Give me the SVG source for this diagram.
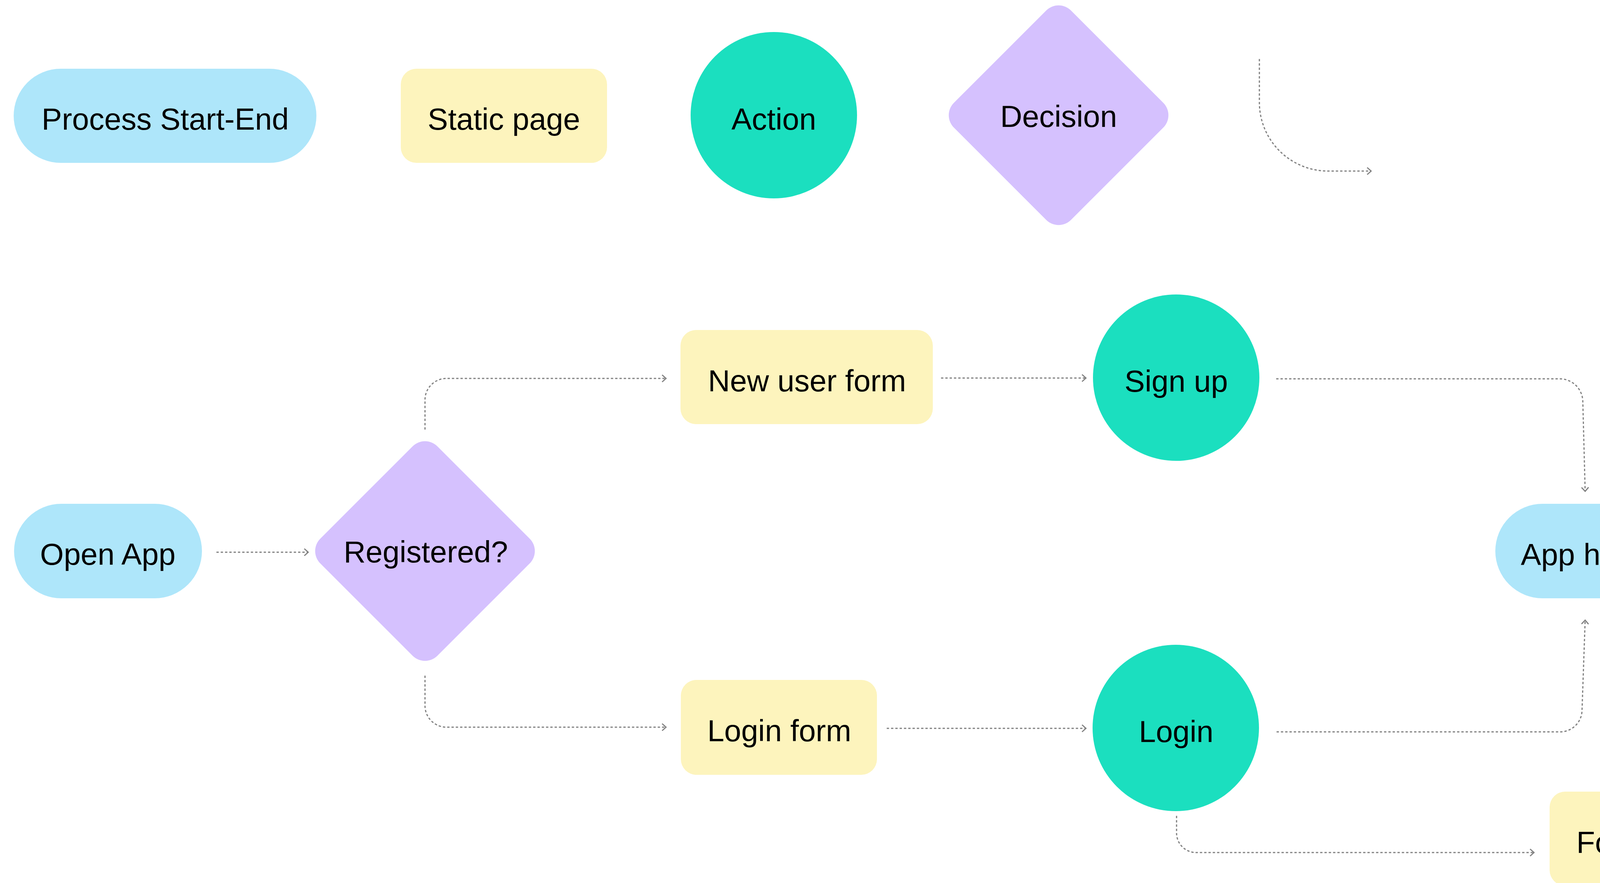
<svg xmlns="http://www.w3.org/2000/svg" width="4942" height="2261" viewBox="0 0 4942 2261">
<style>
.lbl{font-family:"Liberation Sans",Arial,sans-serif;font-size:78px;fill:#000;text-anchor:middle}
.start{fill:#AEE6FA}
.page{fill:#FDF4BD}
.act{fill:#1BDFBF}
.dec{fill:#D5C1FE}
.edge{fill:none;stroke:#808080;stroke-width:3;stroke-dasharray:6 5;marker-end:url(#arr)}
</style>
<defs>
<marker id="arr" markerUnits="userSpaceOnUse" markerWidth="26" markerHeight="26" viewBox="-13 -13 26 26" refX="0" refY="0" orient="auto" overflow="visible">
<path d="M -10 -9 L 0 0 L -10 9" fill="none" stroke="#808080" stroke-width="3"/>
</marker>
</defs>
<rect width="4942" height="2261" fill="#fff"/>
<g id="legend-start"><rect class="start" x="35" y="176" width="775" height="241" rx="120.5"/><text class="lbl" x="423" y="332">Process Start-End</text></g>
<g id="legend-page"><rect class="page" x="1026" y="176" width="528" height="241" rx="40"/><text class="lbl" x="1290" y="332">Static page</text></g>
<g id="legend-action"><circle class="act" cx="1981" cy="295" r="213"/><text class="lbl" x="1981" y="332">Action</text></g>
<g id="legend-decision"><rect class="dec" x="2498" y="83" width="424" height="424" rx="45" transform="rotate(45 2710 295)"/><text class="lbl" x="2710" y="325">Decision</text></g>
<g id="open-app"><rect class="start" x="36" y="1290" width="481" height="242" rx="121"/><text class="lbl" x="276" y="1446">Open App</text></g>
<g id="registered"><rect class="dec" x="876" y="1199" width="424" height="424" rx="45" transform="rotate(45 1088 1411)"/><text class="lbl" x="1090" y="1440">Registered?</text></g>
<g id="new-user-form"><rect class="page" x="1742" y="845" width="646" height="241" rx="40"/><text class="lbl" x="2066" y="1002">New user form</text></g>
<g id="sign-up"><circle class="act" cx="3011" cy="967" r="213"/><text class="lbl" x="3011" y="1003">Sign up</text></g>
<g id="login-form"><rect class="page" x="1743" y="1741" width="502" height="243" rx="40"/><text class="lbl" x="1995" y="1898">Login form</text></g>
<g id="login"><circle class="act" cx="3010" cy="1864" r="213"/><text class="lbl" x="3011" y="1900">Login</text></g>
<g id="app-home"><rect class="start" x="3828" y="1290" width="486" height="242" rx="121"/><text class="lbl" x="4071" y="1447">App home</text></g>
<g id="forgot-password"><rect class="page" x="3967" y="2027" width="716" height="241" rx="40"/><text class="lbl" x="4326" y="2184">Forgot password</text></g>
<g id="connectors">
<path class="edge" d="M 3224 151 V 262 A 176 176 0 0 0 3400 438 H 3510"/>
<path class="edge" d="M 554 1414 H 789"/>
<path class="edge" d="M 1088 1100 V 1024 A 55 55 0 0 1 1143 969 H 1705"/>
<path class="edge" d="M 1088 1730 V 1807 A 55 55 0 0 0 1143 1862 H 1705"/>
<path class="edge" d="M 2409 968 H 2780"/>
<path class="edge" d="M 2270 1865 H 2780"/>
<path class="edge" d="M 3267 970 H 3993 A 59 59 0 0 1 4052 1029 L 4058 1258"/>
<path class="edge" d="M 3268 1874 H 3994 A 56 56 0 0 0 4050 1818 L 4058 1588"/>
<path class="edge" d="M 3012 2089 V 2133 A 50 50 0 0 0 3062 2183 H 3927"/>
<path class="edge" d="M 4710 2183 L 4940 2181"/>
</g>
</svg>
